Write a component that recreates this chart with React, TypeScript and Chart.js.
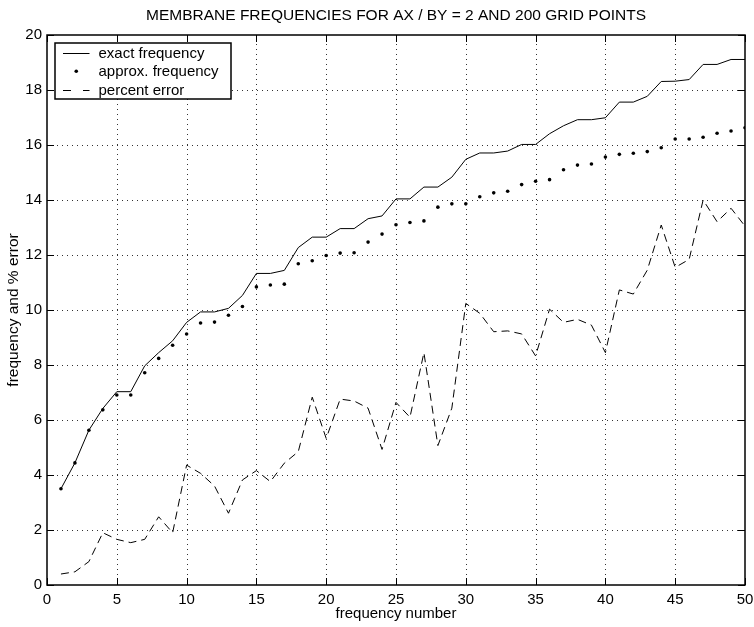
import React, { useEffect, useRef } from "react";
import { Chart, registerables } from "chart.js";

Chart.register(...registerables);

const TITLE = "MEMBRANE FREQUENCIES FOR AX / BY = 2 AND 200 GRID POINTS";
const X_LABEL = "frequency number";
const Y_LABEL = "frequency and % error";
const SERIES_NAMES = ["exact frequency", "approx. frequency", "percent error"];

const frequencyNumber = Array.from({ length: 50 }, (_, i) => i + 1);

const exactFrequency = [
  3.5, 4.44, 5.63, 6.42, 7.03, 7.03, 7.97, 8.45, 8.88, 9.55,
  9.93, 9.93, 10.06, 10.53, 11.33, 11.33, 11.44, 12.27, 12.65, 12.65,
  12.96, 12.96, 13.32, 13.42, 14.04, 14.04, 14.47, 14.47, 14.83, 15.48,
  15.71, 15.71, 15.78, 16.02, 16.02, 16.41, 16.7, 16.92, 16.92, 16.99,
  17.56, 17.56, 17.77, 18.31, 18.32, 18.38, 18.93, 18.93, 19.11, 19.11,
];

const approxFrequency = [
  3.5, 4.44, 5.63, 6.37, 6.91, 6.91, 7.72, 8.24, 8.72, 9.13,
  9.53, 9.56, 9.81, 10.13, 10.84, 10.91, 10.94, 11.68, 11.79, 11.98,
  12.07, 12.08, 12.47, 12.76, 13.1, 13.18, 13.24, 13.74, 13.86, 13.86,
  14.12, 14.26, 14.32, 14.56, 14.68, 14.74, 15.1, 15.27, 15.31, 15.56,
  15.66, 15.7, 15.76, 15.9, 16.22, 16.22, 16.28, 16.43, 16.51, 16.63,
];

const percentError = [
  0.4, 0.48, 0.85, 1.9, 1.66, 1.54, 1.66, 2.48, 1.9, 4.36,
  4.06, 3.6, 2.61, 3.82, 4.16, 3.76, 4.43, 4.85, 6.83, 5.33,
  6.76, 6.69, 6.43, 4.93, 6.64, 6.1, 8.45, 5.07, 6.43, 10.24,
  9.88, 9.21, 9.24, 9.13, 8.33, 10.03, 9.55, 9.66, 9.45, 8.45,
  10.73, 10.58, 11.45, 13.09, 11.55, 11.84, 14.0, 13.21, 13.7, 13.05,
];

const X_MIN = 0, X_MAX = 50, X_STEP = 5;
const Y_MIN = 0, Y_MAX = 20, Y_STEP = 2;

const FONT = '"Liberation Sans", Arial, Helvetica, sans-serif';
const FS = 15;

const toPoints = (ys: number[]) => frequencyNumber.map((x, i) => ({ x, y: ys[i] }));

const frame = {
  id: "matlabFrame",
  beforeDatasetsDraw(chart: any) {
    const { ctx, chartArea: a, scales } = chart;
    ctx.save();
    ctx.strokeStyle = "#333";
    ctx.lineWidth = 1;
    ctx.setLineDash([1, 4]);
    scales.x.ticks.forEach((t: any) => {
      if (t.value <= X_MIN || t.value >= X_MAX) return;
      const px = Math.round(scales.x.getPixelForValue(t.value)) + 0.5;
      ctx.beginPath();
      ctx.moveTo(px, a.bottom);
      ctx.lineTo(px, a.top);
      ctx.stroke();
    });
    scales.y.ticks.forEach((t: any) => {
      if (t.value <= Y_MIN || t.value >= Y_MAX) return;
      const py = Math.round(scales.y.getPixelForValue(t.value)) + 0.5;
      ctx.beginPath();
      ctx.moveTo(a.left, py);
      ctx.lineTo(a.right, py);
      ctx.stroke();
    });
    ctx.restore();
  },
  afterDatasetsDraw(chart: any) {
    const { ctx, chartArea: a, scales } = chart;
    ctx.save();
    ctx.strokeStyle = "#000";
    ctx.setLineDash([]);
    ctx.lineWidth = 1;
    const TL = 7;
    scales.x.ticks.forEach((t: any) => {
      const px = Math.round(scales.x.getPixelForValue(t.value)) + 0.5;
      ctx.beginPath();
      ctx.moveTo(px, a.bottom);
      ctx.lineTo(px, a.bottom - TL);
      ctx.moveTo(px, a.top);
      ctx.lineTo(px, a.top + TL);
      ctx.stroke();
    });
    scales.y.ticks.forEach((t: any) => {
      const py = Math.round(scales.y.getPixelForValue(t.value)) + 0.5;
      ctx.beginPath();
      ctx.moveTo(a.left, py);
      ctx.lineTo(a.left + TL, py);
      ctx.moveTo(a.right, py);
      ctx.lineTo(a.right - TL, py);
      ctx.stroke();
    });
    ctx.lineWidth = 1.5;
    ctx.strokeRect(a.left, a.top, a.right - a.left, a.bottom - a.top);
    ctx.restore();
  },
  afterDraw(chart: any) {
    const { ctx, chartArea: a } = chart;
    const x0 = Math.round(a.left) + 8;
    const y0 = Math.round(a.top) + 8;
    const w = 176, h = 56;
    ctx.save();
    ctx.fillStyle = "#fff";
    ctx.fillRect(x0, y0, w, h);
    ctx.strokeStyle = "#000";
    ctx.lineWidth = 1.5;
    ctx.strokeRect(x0, y0, w, h);
    ctx.font = `${FS}px ${FONT}`;
    ctx.textBaseline = "middle";
    ctx.textAlign = "left";
    ctx.fillStyle = "#000";
    const sx1 = x0 + 8, sx2 = x0 + 34.5;
    chart.data.datasets.forEach((ds: any, i: number) => {
      const cy = y0 + 10 + i * 18.3;
      const ly = Math.round(cy) + 0.5;
      ctx.lineWidth = 1;
      if (i === 0) {
        ctx.setLineDash([]);
        ctx.beginPath();
        ctx.moveTo(sx1, ly);
        ctx.lineTo(sx2, ly);
        ctx.stroke();
      } else if (i === 1) {
        ctx.beginPath();
        ctx.arc((sx1 + sx2) / 2, cy, 1.8, 0, Math.PI * 2);
        ctx.fill();
      } else {
        ctx.setLineDash([8, 12]);
        ctx.beginPath();
        ctx.moveTo(sx1, ly);
        ctx.lineTo(sx2, ly);
        ctx.stroke();
        ctx.setLineDash([]);
      }
      ctx.fillText(ds.label, x0 + 43.5, cy + 1);
    });
    ctx.restore();
  },
};

export default function App() {
  const ref = useRef<HTMLCanvasElement | null>(null);
  useEffect(() => {
    if (!ref.current) return;
    const chart = new Chart(ref.current, {
      type: "line",
      data: {
        datasets: [
          {
            label: SERIES_NAMES[0],
            data: toPoints(exactFrequency),
            borderColor: "#000",
            borderWidth: 1,
            pointRadius: 0,
            fill: false,
          },
          {
            label: SERIES_NAMES[1],
            data: toPoints(approxFrequency),
            showLine: false,
            pointRadius: 1.8,
            pointBorderWidth: 0,
            pointBackgroundColor: "#000",
            borderColor: "#000",
          },
          {
            label: SERIES_NAMES[2],
            data: toPoints(percentError),
            borderColor: "#000",
            borderWidth: 1,
            borderDash: [8, 5],
            pointRadius: 0,
            fill: false,
          },
        ],
      },
      options: {
        responsive: false,
        animation: false,
        devicePixelRatio: 1,
        layout: { padding: { left: 0, right: 0, top: 0, bottom: 0 } },
        plugins: {
          legend: { display: false },
          tooltip: { enabled: false },
          title: {
            display: true,
            text: TITLE,
            fullSize: false,
            color: "#000",
            font: { family: FONT, size: 15.5, weight: "normal" },
            padding: { top: 6, bottom: 10.4 },
          },
        },
        scales: {
          x: {
            type: "linear",
            min: X_MIN,
            max: X_MAX,
            ticks: { stepSize: X_STEP, color: "#000", font: { family: FONT, size: FS }, padding: 6, maxRotation: 0 },
            grid: { display: false, drawTicks: false },
            border: { display: false },
            title: { display: true, text: X_LABEL, color: "#000", font: { family: FONT, size: FS }, padding: { top: 0, bottom: 4 } },
            afterFit: (s: any) => { s.height = 42; s.paddingRight = 9; s.paddingLeft = 0; },
          },
          y: {
            type: "linear",
            min: Y_MIN,
            max: Y_MAX,
            ticks: { stepSize: Y_STEP, color: "#000", font: { family: FONT, size: FS }, padding: 5 },
            grid: { display: false, drawTicks: false },
            border: { display: false },
            title: { display: true, text: Y_LABEL, color: "#000", font: { family: FONT, size: 15.5 }, padding: { top: 4, bottom: 0 } },
            afterFit: (s: any) => { s.width = 47; },
          },
        },
      },
      plugins: [frame],
    });
    return () => chart.destroy();
  }, []);
  return (
    <div style={{ position: "absolute", left: 0, top: 0, width: 754, height: 627, background: "#fff" }}>
      <canvas ref={ref} width={754} height={627} style={{ width: 754, height: 627, display: "block" }} />
    </div>
  );
}
